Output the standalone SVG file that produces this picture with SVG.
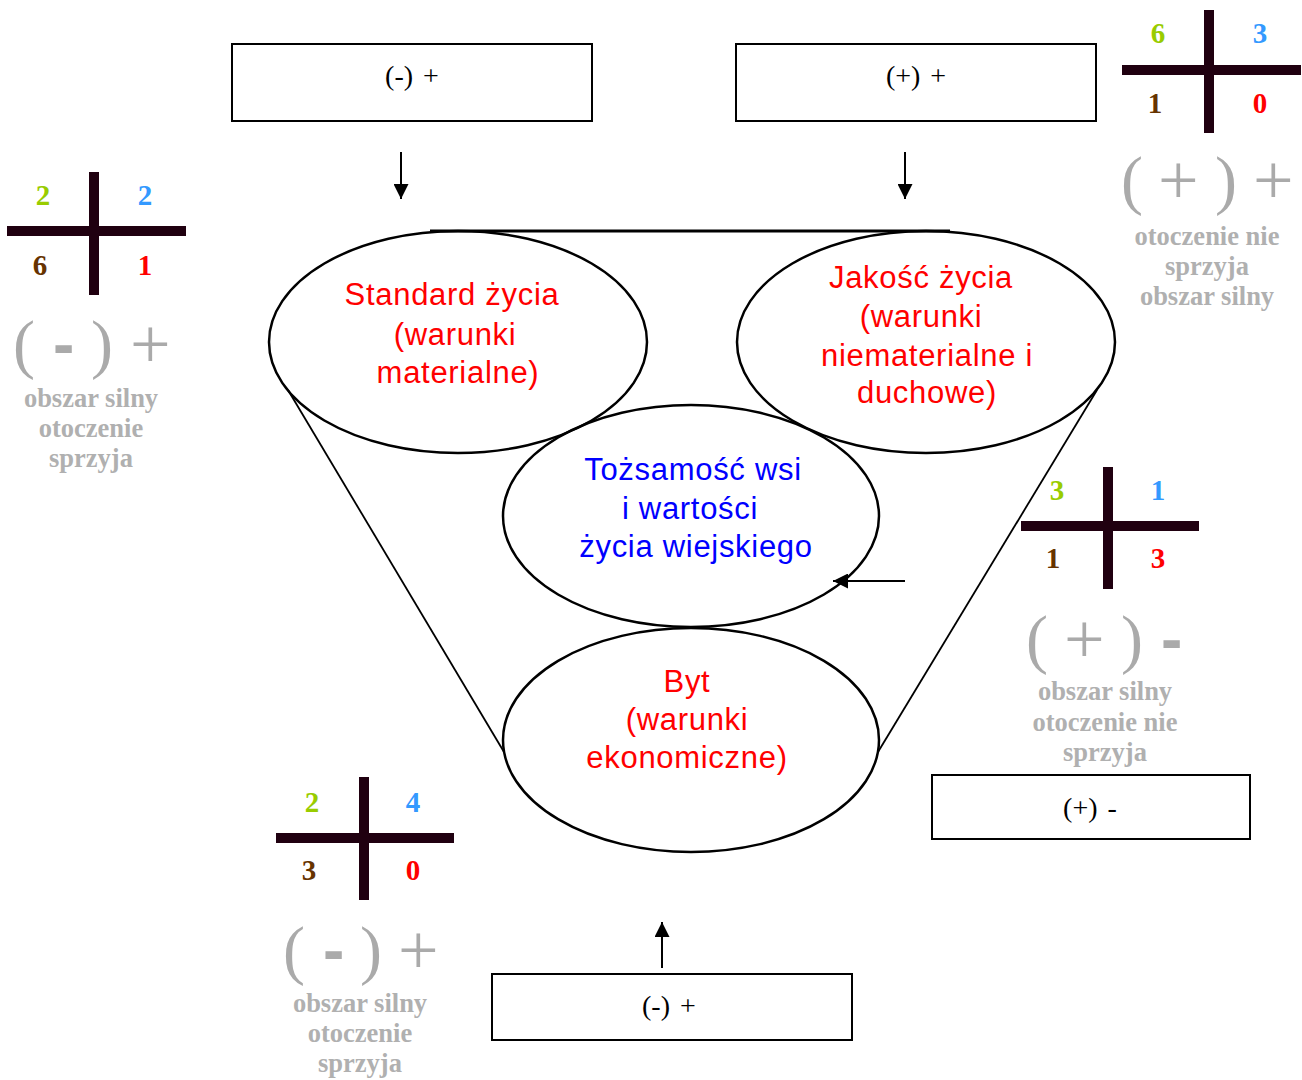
<svg xmlns="http://www.w3.org/2000/svg" width="1302" height="1080" viewBox="0 0 1302 1080">
<style>
.bg{fill:#ffffff}
.box{fill:none;stroke:#000;stroke-width:2}
.boxt{font-family:"Liberation Serif",serif;font-size:28px;fill:#000;word-spacing:3px}
.ell{fill:none;stroke:#000;stroke-width:2.5}
.conn{stroke:#000;stroke-width:2;fill:none}
.fun{stroke:#000;stroke-width:1.8;fill:none}
.top{stroke:#000;stroke-width:3;fill:none}
.et{font-family:"Liberation Sans",Arial,sans-serif;font-size:31px;text-anchor:middle;letter-spacing:0.7px}
.red{fill:#ff0000}
.blue{fill:#0000ff}
.cross{stroke:#200010;stroke-width:10;fill:none}
.num{font-family:"Liberation Serif",serif;font-size:29px;font-weight:bold;text-anchor:middle}
.g{fill:#99cc00}.b{fill:#3399ff}.br{fill:#663300}.r{fill:#ff0000}
.big{font-family:"Liberation Serif",serif;font-size:66px;fill:#aaaaaa}
.pl{font-family:"Liberation Serif",serif;font-size:72px;fill:#aaaaaa}
.hy{font-family:"Liberation Sans",Arial,sans-serif;font-weight:bold;font-size:64px;fill:#aaaaaa}
.lab{font-family:"Liberation Serif",serif;font-size:26.5px;font-weight:bold;fill:#b0b0b0;text-anchor:middle}
</style>
<defs>
<marker id="ah" viewBox="0 0 15 15" refX="15" refY="7.5" markerWidth="15" markerHeight="15" orient="auto" markerUnits="userSpaceOnUse">
<path d="M0,0 L15,7.5 L0,15 z" fill="#000"/>
</marker>
</defs>
<rect class="bg" x="0" y="0" width="1302" height="1080"/>

<g id="box-top-left">
<rect class="box" x="232" y="44" width="360" height="77"/>
<text class="boxt" x="412" y="85" text-anchor="middle">(-) +</text>
</g>
<g id="box-top-right">
<rect class="box" x="736" y="44" width="360" height="77"/>
<text class="boxt" x="916" y="85" text-anchor="middle">(+) +</text>
</g>
<g id="box-right">
<rect class="box" x="932" y="775" width="318" height="64"/>
<text class="boxt" x="1090" y="817" text-anchor="middle">(+) -</text>
</g>
<g id="box-bottom">
<rect class="box" x="492" y="974" width="360" height="66"/>
<text class="boxt" x="642" y="1015">(-) +</text>
</g>

<g id="funnel">
<line class="top" x1="430" y1="231" x2="950" y2="231"/>
<line class="fun" x1="288" y1="390" x2="504" y2="752"/>
<line class="fun" x1="1097" y1="390" x2="878" y2="752"/>
</g>

<g id="node-standard">
<ellipse class="ell" cx="458" cy="342" rx="189" ry="111"/>
<text class="et red" x="452" y="305">Standard życia</text>
<text class="et red" x="455" y="345">(warunki</text>
<text class="et red" x="458" y="383">materialne)</text>
</g>
<g id="node-jakosc">
<ellipse class="ell" cx="926" cy="342" rx="189" ry="111"/>
<text class="et red" x="921" y="288">Jakość życia</text>
<text class="et red" x="921" y="327">(warunki</text>
<text class="et red" x="927" y="366">niematerialne i</text>
<text class="et red" x="927" y="403">duchowe)</text>
</g>
<g id="node-tozsamosc">
<ellipse class="ell" cx="691" cy="516" rx="188" ry="111"/>
<text class="et blue" x="693" y="480">Tożsamość wsi</text>
<text class="et blue" x="690" y="519">i wartości</text>
<text class="et blue" x="696" y="557">życia wiejskiego</text>
</g>
<g id="node-byt">
<ellipse class="ell" cx="691" cy="740" rx="188" ry="112"/>
<text class="et red" x="687" y="692">Byt</text>
<text class="et red" x="687" y="730">(warunki</text>
<text class="et red" x="687" y="768">ekonomiczne)</text>
</g>

<g id="connectors">
<line class="conn" x1="401" y1="152" x2="401" y2="199" marker-end="url(#ah)"/>
<line class="conn" x1="905" y1="152" x2="905" y2="199" marker-end="url(#ah)"/>
<line class="conn" x1="662" y1="968" x2="662" y2="922" marker-end="url(#ah)"/>
<line class="conn" x1="905" y1="581" x2="833" y2="581" marker-end="url(#ah)"/>
</g>

<g id="score-left">
<line class="cross" x1="94" y1="172" x2="94" y2="295"/>
<line class="cross" x1="7" y1="231" x2="186" y2="231"/>
<text class="num g" x="43" y="205">2</text>
<text class="num b" x="145" y="205">2</text>
<text class="num br" x="40" y="275">6</text>
<text class="num r" x="145" y="275">1</text>
<text class="big" x="13" y="366">(</text>
<text class="hy" x="53" y="366">-</text>
<text class="big" x="91" y="366">)</text>
<text class="pl" x="130" y="368">+</text>
<text class="lab" x="91" y="407">obszar silny</text>
<text class="lab" x="91" y="437">otoczenie</text>
<text class="lab" x="91" y="467">sprzyja</text>
</g>

<g id="score-top-right">
<line class="cross" x1="1209" y1="10" x2="1209" y2="133"/>
<line class="cross" x1="1122" y1="70" x2="1301" y2="70"/>
<text class="num g" x="1158" y="43">6</text>
<text class="num b" x="1260" y="43">3</text>
<text class="num br" x="1155" y="113">1</text>
<text class="num r" x="1260" y="113">0</text>
<text class="big" x="1121" y="202">(</text>
<text class="pl" x="1158" y="204">+</text>
<text class="big" x="1215" y="202">)</text>
<text class="pl" x="1253" y="204">+</text>
<text class="lab" x="1207" y="245">otoczenie nie</text>
<text class="lab" x="1207" y="275">sprzyja</text>
<text class="lab" x="1207" y="305">obszar silny</text>
</g>

<g id="score-right">
<line class="cross" x1="1108" y1="467" x2="1108" y2="589"/>
<line class="cross" x1="1021" y1="526" x2="1199" y2="526"/>
<text class="num g" x="1057" y="500">3</text>
<text class="num b" x="1158" y="500">1</text>
<text class="num br" x="1053" y="568">1</text>
<text class="num r" x="1158" y="568">3</text>
<text class="big" x="1026" y="661">(</text>
<text class="pl" x="1064" y="663">+</text>
<text class="big" x="1121" y="661">)</text>
<text class="hy" x="1161" y="661">-</text>
<text class="lab" x="1105" y="700">obszar silny</text>
<text class="lab" x="1105" y="731">otoczenie nie</text>
<text class="lab" x="1105" y="761">sprzyja</text>
</g>

<g id="score-bottom-left">
<line class="cross" x1="364" y1="777" x2="364" y2="900"/>
<line class="cross" x1="276" y1="838" x2="454" y2="838"/>
<text class="num g" x="312" y="812">2</text>
<text class="num b" x="413" y="812">4</text>
<text class="num br" x="309" y="880">3</text>
<text class="num r" x="413" y="880">0</text>
<text class="big" x="283" y="972">(</text>
<text class="hy" x="323" y="972">-</text>
<text class="big" x="360" y="972">)</text>
<text class="pl" x="398" y="974">+</text>
<text class="lab" x="360" y="1012">obszar silny</text>
<text class="lab" x="360" y="1042">otoczenie</text>
<text class="lab" x="360" y="1072">sprzyja</text>
</g>
</svg>
